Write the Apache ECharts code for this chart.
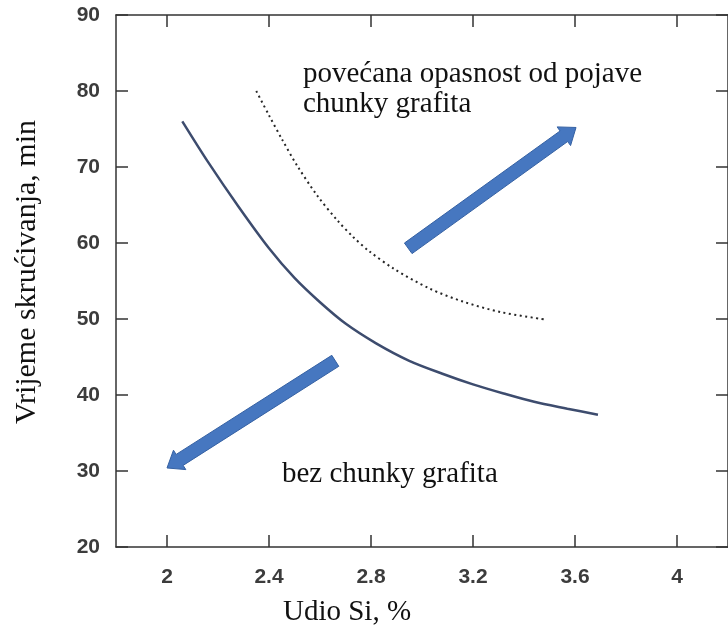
<!DOCTYPE html>
<html>
<head>
<meta charset="utf-8">
<script src="https://cdn.jsdelivr.net/npm/echarts@6/dist/echarts.min.js"></script>
<style>
  html, body { margin: 0; padding: 0; background: #fff; }
  #chart { width: 728px; height: 631px; }
</style>
</head>
<body>
<div id="chart"></div>
<script>
// Axis ticks
const xTicks = [2, 2.4, 2.8, 3.2, 3.6, 4];
const yTicks = [20, 30, 40, 50, 60, 70, 80, 90];

// Solidification time limit curve (solid line): [Si %, min]
const limitCurve = [
  [2.06, 76.0], [2.16, 70.7], [2.28, 64.8], [2.40, 59.3], [2.50, 55.4],
  [2.60, 52.2], [2.70, 49.4], [2.82, 46.8], [2.95, 44.5], [3.08, 42.8],
  [3.20, 41.4], [3.32, 40.2], [3.44, 39.1], [3.57, 38.2], [3.69, 37.4]
];

// Increased-risk boundary (dotted line): [Si %, min]
const riskCurve = [
  [2.35, 80.0], [2.40, 76.8], [2.45, 73.7], [2.51, 70.2], [2.59, 66.2],
  [2.67, 62.9], [2.73, 60.8], [2.79, 59.0], [2.89, 56.6], [3.03, 54.0],
  [3.16, 52.3], [3.31, 50.9], [3.49, 49.9]
];

// Direction arrows: [x from, y from, x to, y to]
const arrows = [
  [2.946, 59.3, 3.604, 75.2],
  [2.660, 44.5, 2.000, 30.4]
];

// Texts
const xTitle = 'Udio Si, %';
const yTitle = 'Vrijeme skrućivanja, min';
const riskText = ['povećana opasnost od pojave', 'chunky grafita'];
const safeText = 'bez chunky grafita';

const serif = '"Liberation Serif", "Times New Roman", serif';
const sans = '"Liberation Sans", Arial, sans-serif';
const axisColor = '#333';

const chart = echarts.init(document.getElementById('chart'), null, { renderer: 'canvas' });

const tickCommon = { show: true, inside: true, length: 12, lineStyle: { color: axisColor, width: 1.5 } };
const lineCommon = { show: true, onZero: false, lineStyle: { color: axisColor, width: 1.5 } };
const labelStyle = { fontFamily: sans, fontSize: 21, fontWeight: 'bold', color: '#3c3c3c' };

chart.setOption({
  animation: false,
  backgroundColor: '#fff',
  grid: { left: 116, top: 15, right: -7.8, bottom: 84, containLabel: false },
  xAxis: [
    {
      type: 'value', position: 'bottom', min: 1.8, max: 4.2,
      axisLine: lineCommon,
      axisTick: Object.assign({}, tickCommon, { customValues: xTicks }),
      axisLabel: Object.assign({ customValues: xTicks, margin: 20 }, labelStyle),
      splitLine: { show: false }
    },
    {
      type: 'value', position: 'top', min: 1.8, max: 4.2,
      axisLine: lineCommon,
      axisTick: Object.assign({}, tickCommon, { customValues: xTicks }),
      axisLabel: { show: false },
      splitLine: { show: false }
    }
  ],
  yAxis: [
    {
      type: 'value', position: 'left', min: 20, max: 90, interval: 10,
      axisLine: lineCommon,
      axisTick: tickCommon,
      axisLabel: Object.assign({ margin: 16 }, labelStyle),
      splitLine: { show: false }
    },
    {
      type: 'value', position: 'right', min: 20, max: 90, interval: 10,
      axisLine: lineCommon,
      axisTick: tickCommon,
      axisLabel: { show: false },
      splitLine: { show: false }
    }
  ],
  series: [
    {
      type: 'line', name: 'limit', data: limitCurve, smooth: 0.3,
      showSymbol: false, symbol: 'none',
      lineStyle: { color: '#3d4c6e', width: 2.5 }
    },
    {
      type: 'line', name: 'risk', data: riskCurve, smooth: 0.3,
      showSymbol: false, symbol: 'none',
      lineStyle: { color: '#262626', width: 2, type: [2, 3.5] }
    },
    {
      type: 'custom', name: 'arrows', data: arrows, clip: false,
      dimensions: ['x0', 'y0', 'x1', 'y1'],
      encode: { x: [0, 2], y: [1, 3] },
      renderItem: function (params, api) {
        const p0 = api.coord([api.value(0), api.value(1)]);
        const p1 = api.coord([api.value(2), api.value(3)]);
        const dx = p1[0] - p0[0], dy = p1[1] - p0[1];
        const len = Math.hypot(dx, dy);
        const ux = dx / len, uy = dy / len, nx = -uy, ny = ux;
        const w = 6.5, hw = 11.5, hl = 15;
        const bx = p1[0] - ux * hl, by = p1[1] - uy * hl;
        return {
          type: 'polygon',
          shape: {
            points: [
              [p0[0] + nx * w, p0[1] + ny * w],
              [bx + nx * w, by + ny * w],
              [bx + nx * hw, by + ny * hw],
              [p1[0], p1[1]],
              [bx - nx * hw, by - ny * hw],
              [bx - nx * w, by - ny * w],
              [p0[0] - nx * w, p0[1] - ny * w]
            ]
          },
          style: { fill: '#4677c0', stroke: '#3561a3', lineWidth: 1 }
        };
      }
    }
  ],
  graphic: [
    { type: 'text', x: 303, y: 74, style: { text: riskText[0], font: '29px ' + serif, fill: '#111', verticalAlign: 'middle' } },
    { type: 'text', x: 303, y: 104, style: { text: riskText[1], font: '29px ' + serif, fill: '#111', verticalAlign: 'middle' } },
    { type: 'text', x: 282, y: 474, style: { text: safeText, font: '29px ' + serif, fill: '#111', verticalAlign: 'middle' } },
    { type: 'text', x: 347, y: 612, style: { text: xTitle, font: '29px ' + serif, fill: '#111', align: 'center', verticalAlign: 'middle' } },
    { type: 'text', x: 27, y: 272, rotation: Math.PI / 2, style: { text: yTitle, font: '30px ' + serif, fill: '#111', align: 'center', verticalAlign: 'middle' } }
  ]
});
</script>
</body>
</html>
